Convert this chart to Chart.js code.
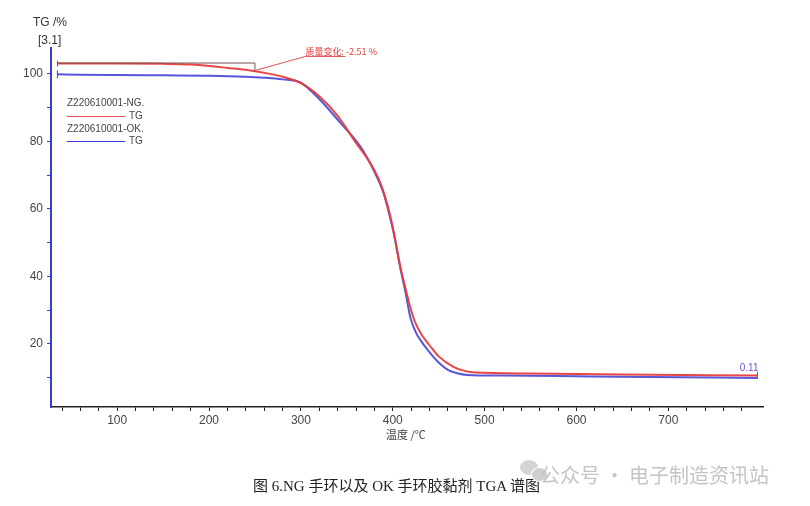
<!DOCTYPE html>
<html>
<head>
<meta charset="utf-8">
<script src="https://cdn.jsdelivr.net/npm/chart.js@4/dist/chart.umd.min.js"></script>
<style>
  html,body{margin:0;padding:0;background:#fff;}
  #wrap{position:relative;width:810px;height:506px;overflow:hidden;background:#fff;font-family:"Liberation Sans",Arial,sans-serif;}
  canvas{position:absolute;left:0;top:0;}
  .t{position:absolute;white-space:nowrap;}
</style>
</head>
<body>
<div id="wrap">
  <canvas id="c" width="810" height="506"></canvas>
  <div class="t" style="left:33px;top:15px;font-size:12px;color:#333;">TG /%</div>
  <div class="t" style="left:38px;top:33px;font-size:12px;color:#333;">[3.1]</div>
  <div class="t" style="left:67px;top:97px;font-size:10px;color:#444;">Z220610001-NG.</div>
  <div class="t" style="left:67px;top:116px;width:58px;height:1px;background:#e85050;"></div>
  <div class="t" style="left:129px;top:110px;font-size:10px;color:#444;">TG</div>
  <div class="t" style="left:67px;top:123px;font-size:10px;color:#444;">Z220610001-OK.</div>
  <div class="t" style="left:67px;top:141px;width:58px;height:1px;background:#3b3bdd;"></div>
  <div class="t" style="left:129px;top:135px;font-size:10px;color:#444;">TG</div>
  <div class="t" style="left:386px;top:426px;font-size:11px;color:#444;font-family:'Noto Sans CJK SC',sans-serif;">温度 /℃</div>
  <div class="t" style="left:253px;top:474px;font-size:15px;color:#222;font-family:'Liberation Serif','Noto Sans CJK SC',serif;">图 6.NG 手环以及 OK 手环胶黏剂 TGA 谱图</div>
  <div class="t" style="left:520px;top:460px;width:18px;height:15px;border-radius:50%;background:#d4d4d4;"></div>
  <div class="t" style="left:531px;top:467px;width:15px;height:13px;border-radius:50%;background:#cfcfcf;border:1px solid #fff;"></div>
  <div class="t" style="left:540px;top:460px;font-size:20px;color:#c4c4c4;font-family:'Noto Sans CJK SC',sans-serif;">公众号 · 电子制造资讯站</div>
</div>
<script>
// ---- data ----
const tempNG = [35,100,150,180,200,220,245,265,280,300,320,340,360,375,386,392,397,402,408,415,420,425,432,440,450,466,478,490,550,650,797];
const tgNG   = [103.1,103.1,103.0,102.8,102.4,101.8,101.0,100.1,99.2,97.3,93.4,87.6,79.6,73.8,68.0,63.2,58.3,51.8,43.2,35.2,30.0,26.0,22.5,19.6,16.3,13.2,12.0,11.5,11.2,10.9,10.6];
const tempOK = [35,60,100,150,200,240,260,280,300,320,343,365,379,390,395,401,408,414,419,425,430,438,448,460,470,481,520,600,680,797];
const tgOK   = [99.9,99.8,99.7,99.6,99.5,99.2,98.9,98.4,97.4,92.6,85.5,78.4,71.6,64.7,59.7,52.9,42.8,35.1,28.0,23.5,21.2,18.2,15.0,12.3,11.3,10.8,10.6,10.4,10.2,9.9];
const xTickValues = [40,60,80,100,120,140,160,180,200,220,240,260,280,300,320,340,360,380,400,420,440,460,480,500,520,540,560,580,600,620,640,660,680,700,720,740,760,780];
const yTickValues = [10,20,30,40,50,60,70,80,90,100];
const seriesNames = ['Z220610001-NG. TG','Z220610001-OK. TG'];
const stepLabel = '质量变化: -2.51 %';
const stepTemp = 250;
const endLabel = '0.11';

const toXY = (xs, ys) => xs.map((x, i) => ({x, y: ys[i]}));

const annot = {
  id: 'annot',
  afterDatasetsDraw(chart) {
    const ctx = chart.ctx, xs = chart.scales.x, ys = chart.scales.y;
    const px = v => xs.getPixelForValue(v), py = v => ys.getPixelForValue(v);
    const x0 = px(tempNG[0]), y0 = py(tgNG[0]);
    const xs1 = px(stepTemp), yStep = py(100.8);
    ctx.save();
    ctx.lineWidth = 1;
    ctx.strokeStyle = '#7a5050';
    ctx.beginPath();
    ctx.moveTo(x0, y0 - 0.5); ctx.lineTo(xs1, y0 - 0.5); ctx.lineTo(xs1, yStep);
    ctx.stroke();
    ctx.strokeStyle = '#804040';
    ctx.beginPath(); ctx.moveTo(x0, y0 - 3); ctx.lineTo(x0, y0 + 3); ctx.stroke();
    ctx.strokeStyle = '#3b3bd0';
    ctx.beginPath(); ctx.moveTo(px(tempOK[0]), py(tgOK[0]) - 4); ctx.lineTo(px(tempOK[0]), py(tgOK[0]) + 4); ctx.stroke();
    ctx.strokeStyle = '#e05050';
    const lx = px(305), ly = py(105.2);
    ctx.beginPath(); ctx.moveTo(xs1 + 1, yStep - 1); ctx.lineTo(lx, ly); ctx.lineTo(lx + 40, ly); ctx.stroke();
    ctx.fillStyle = '#e04040';
    ctx.font = '9px "Noto Sans CJK SC", sans-serif';
    ctx.textBaseline = 'bottom';
    ctx.fillText(stepLabel, lx, ly);
    const xe = px(tempOK[tempOK.length - 1]), ye = py(tgOK[tgOK.length - 1]);
    ctx.strokeStyle = '#5a5ad0';
    ctx.beginPath(); ctx.moveTo(xe, ye - 6); ctx.lineTo(xe, ye + 1); ctx.stroke();
    ctx.fillStyle = '#6a5ad0';
    ctx.font = '10px "Liberation Sans", Arial, sans-serif';
    ctx.textAlign = 'right';
    ctx.fillText(endLabel, xe + 1, ye - 5);
    ctx.restore();
  }
};

new Chart(document.getElementById('c'), {
  type: 'line',
  data: {
    datasets: [
      {label: seriesNames[0], data: toXY(tempNG, tgNG), borderColor: 'rgba(232,60,60,0.95)', borderWidth: 2, pointRadius: 0, cubicInterpolationMode: 'monotone', fill: false},
      {label: seriesNames[1], data: toXY(tempOK, tgOK), borderColor: 'rgba(58,58,210,0.85)', borderWidth: 2, pointRadius: 0, cubicInterpolationMode: 'monotone', fill: false}
    ]
  },
  options: {
    responsive: false,
    animation: false,
    layout: {padding: {top: 48, right: 47, left: 0, bottom: 0}},
    plugins: {legend: {display: false}, tooltip: {enabled: false}},
    scales: {
      x: {
        type: 'linear', min: 28, max: 803,
        afterBuildTicks: s => { s.ticks = xTickValues.map(v => ({value: v})); },
        afterFit: s => { s.height = 99; },
        ticks: {callback: v => (v % 100 === 0 ? String(v) : ''), autoSkip: false, maxRotation: 0, color: '#444', font: {size: 12, family: '"Liberation Sans", Arial, sans-serif'}, padding: 2},
        grid: {display: true, drawOnChartArea: false, drawTicks: true, tickLength: 4, color: '#222', lineWidth: 1},
        border: {display: true, color: '#222', width: 1.5}
      },
      y: {
        type: 'linear', min: 1.3, max: 107.7,
        afterBuildTicks: s => { s.ticks = yTickValues.map(v => ({value: v})); },
        afterFit: s => { s.width = 51; },
        ticks: {callback: v => (v % 20 === 0 ? String(v) : ''), autoSkip: false, color: '#444', font: {size: 12, family: '"Liberation Sans", Arial, sans-serif'}, padding: 4},
        grid: {display: true, drawOnChartArea: false, drawTicks: true, tickLength: 4, color: '#3b3bd0', lineWidth: 1},
        border: {display: true, color: '#3b3bd0', width: 2}
      }
    }
  },
  plugins: [annot]
});
</script>
</body>
</html>
